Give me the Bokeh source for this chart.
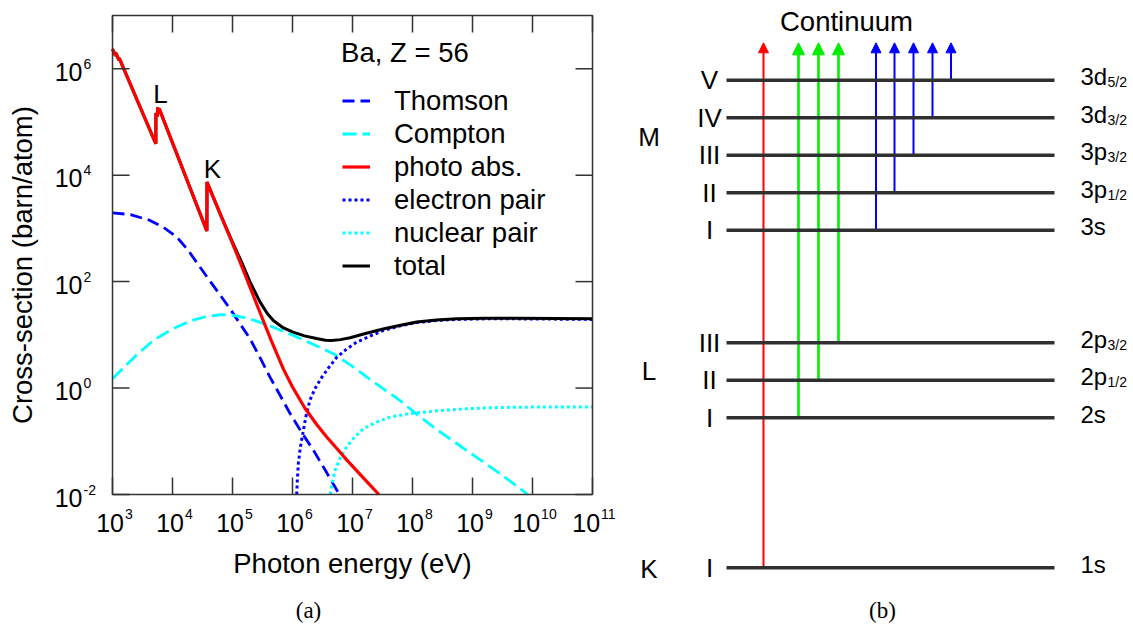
import numpy as np
from math import pi
from bokeh.plotting import figure
from bokeh.models import (Range1d, LogScale, ColumnDataSource, Legend, LegendItem, Arrow,
                          NormalHead)
from bokeh.embed import file_html
from bokeh.resources import INLINE
from bokeh.core.properties import value

# ======================= DATA =======================
# Panel (a): Ba (Z = 56) photon cross sections.
# Energies as log10(E / eV), cross sections as log10(sigma / (barn/atom)).
thomson_logE = [3.00, 3.30, 3.625, 3.85, 4.07, 4.26, 4.46, 4.63, 4.80, 4.97, 5.13, 5.29, 5.46,
                5.625, 5.80, 5.96, 6.15, 6.35, 6.55, 6.74, 6.78]
thomson_logS = [3.29, 3.26, 3.15, 3.02, 2.84, 2.59, 2.27, 2.00, 1.74, 1.47, 1.20, 0.93, 0.57,
                0.205, -0.15, -0.48, -0.83, -1.17, -1.55, -1.92, -2.00]

compton_logE = [3.00, 3.20, 3.40, 3.68, 4.00, 4.32, 4.55, 4.80, 5.00, 5.29, 5.60, 6.01, 6.35,
                6.68, 6.97, 7.24, 7.52, 7.79, 8.07, 8.35, 8.62, 8.90, 9.18, 9.46, 9.70, 9.92]
compton_logS = [0.175, 0.40, 0.62, 0.895, 1.11, 1.27, 1.34, 1.38, 1.37, 1.30, 1.18, 0.99, 0.82,
                0.645, 0.43, 0.205, -0.02, -0.233, -0.49, -0.735, -0.95, -1.17, -1.39, -1.61,
                -1.81, -2.00]

photo_logE = [3.000, 3.050, 3.052, 3.110, 3.112, 3.722, 3.724, 3.749, 3.751, 3.776, 3.778,
              4.573, 4.575, 4.80, 5.00, 5.15, 5.29, 5.458, 5.65, 5.847, 6.00, 6.208, 6.40,
              6.57, 6.75, 6.903, 7.20, 7.44]
photo_logS = [6.37, 6.245, 6.30, 6.16, 6.20, 4.59, 5.17, 5.10, 5.27, 5.21, 5.25,
              2.95, 3.87, 3.26, 2.72, 2.30, 1.90, 1.42, 0.88, 0.36, 0.02, -0.38, -0.68,
              -0.92, -1.15, -1.35, -1.71, -2.00]

epair_logE = [6.07, 6.08, 6.097, 6.13, 6.18, 6.23, 6.29, 6.38, 6.49, 6.60, 6.74, 6.90, 7.07,
              7.30, 7.51, 7.80, 8.07, 8.40, 8.74, 9.20, 9.74, 10.40, 11.00]
epair_logS = [-2.00, -1.75, -1.42, -1.12, -0.80, -0.50, -0.23, 0.00, 0.205, 0.38, 0.58, 0.73,
              0.863, 0.98, 1.08, 1.17, 1.23, 1.27, 1.29, 1.30, 1.30, 1.295, 1.29]

npair_logE = [6.63, 6.65, 6.71, 6.80, 6.90, 7.03, 7.18, 7.40, 7.625, 7.90, 8.18, 8.50, 8.90,
              9.30, 9.74, 10.40, 11.00]
npair_logS = [-2.00, -1.85, -1.55, -1.30, -1.11, -0.93, -0.765, -0.64, -0.547, -0.49, -0.453,
              -0.42, -0.39, -0.37, -0.36, -0.355, -0.355]

total_logE = [3.000, 3.050, 3.052, 3.110, 3.112, 3.722, 3.724, 3.749, 3.751, 3.776, 3.778,
              4.573, 4.575, 4.80, 5.00, 5.15, 5.29, 5.458, 5.58, 5.68, 5.85, 6.01, 6.20, 6.40,
              6.55, 6.65, 6.80, 6.96, 7.20, 7.51, 7.80, 8.07, 8.40, 8.74, 9.20, 9.74, 10.40, 11.00]
total_logS = [6.37, 6.245, 6.30, 6.16, 6.20, 4.59, 5.17, 5.10, 5.27, 5.21, 5.25,
              2.95, 3.87, 3.26, 2.74, 2.37, 2.00, 1.62, 1.40, 1.27, 1.13, 1.05, 0.98, 0.93,
              0.90, 0.895, 0.91, 0.945, 1.02, 1.11, 1.18, 1.24, 1.28, 1.30, 1.31, 1.31, 1.305, 1.30]

x_ticks = [1e3, 1e4, 1e5, 1e6, 1e7, 1e8, 1e9, 1e10, 1e11]
x_tick_exp = ["3", "4", "5", "6", "7", "8", "9", "10", "11"]
y_ticks = [1e-2, 1e0, 1e2, 1e4, 1e6]
y_tick_exp = ["-2", "0", "2", "4", "6"]
E_MIN, E_MAX = 1e3, 1e11
S_MIN, S_MAX = 1e-2, 1e7

legend_labels = ["Thomson", "Compton", "photo abs.", "electron pair", "nuclear pair", "total"]

# Panel (b): Ba electron levels (schematic heights) and ionising transitions
level_shell = ["K", "L", "L", "L", "M", "M", "M", "M", "M"]
level_roman = ["I", "I", "II", "III", "I", "II", "III", "IV", "V"]
level_orb = ["1s", "2s", "2p", "2p", "3s", "3p", "3p", "3d", "3d"]
level_j = ["", "", "1/2", "3/2", "", "1/2", "3/2", "3/2", "5/2"]
level_height = [0, 4, 5, 6, 9, 10, 11, 12, 13]
continuum_height = 14
shell_names = ["K", "L", "M"]

# ======================= STYLE / LAYOUT =======================
FONT = "Liberation Sans"
SERIF = "Liberation Serif"
INK = "#333333"
W, H = 1133, 626
MID = "middle"

# panel (a) plot box in canvas pixels
AX0, AX1, AYT, AYB = 112.0, 592.0, 15.0, 494.0
dec_x = (AX1 - AX0) / (np.log10(E_MAX) - np.log10(E_MIN))
dec_y = (AYB - AYT) / (np.log10(S_MAX) - np.log10(S_MIN))
E_range = Range1d(10 ** (np.log10(E_MIN) - AX0 / dec_x), 10 ** (np.log10(E_MAX) + (W - AX1) / dec_x))
S_range = Range1d(10 ** (np.log10(S_MIN) - (H - AYB) / dec_y), 10 ** (np.log10(S_MAX) + AYT / dec_y))

# panel (b) schematic units -> canvas pixels
UX, UY = 18.9, 37.5          # px per unit
BX0, BY0 = 726.0, 567.3      # canvas position of (0, 0)
u_range = Range1d(-BX0 / UX, (W - BX0) / UX)
v_range = Range1d(-(H - BY0) / UY, BY0 / UY)

p = figure(width=W, height=H, x_range=u_range, y_range=v_range, min_border=0,
           x_axis_location=None, y_axis_location=None,
           output_backend="svg", toolbar_location=None)
p.grid.visible = False
p.outline_line_color = None
p.background_fill_color = "white"
p.border_fill_color = "white"
p.extra_x_ranges = {"E": E_range}
p.extra_x_scales = {"E": LogScale()}
p.extra_y_ranges = {"S": S_range}
p.extra_y_scales = {"S": LogScale()}
A = dict(x_range_name="E", y_range_name="S")

def lin(a):
    return np.power(10.0, np.asarray(a, dtype=float))

# ---------------- panel (a) ----------------
r_th = p.line(lin(thomson_logE), lin(thomson_logS), line_color="#0000ff", line_width=2.8,
              line_dash="12 6", **A)
r_co = p.line(lin(compton_logE), lin(compton_logS), line_color="#00ffff", line_width=2.8,
              line_dash="14 6", **A)
r_np = p.line(lin(npair_logE), lin(npair_logS), line_color="#00ffff", line_width=3,
              line_dash="3 3", **A)
r_ep = p.line(lin(epair_logE), lin(epair_logS), line_color="#0000ff", line_width=3,
              line_dash="3 3", **A)
r_to = p.line(lin(total_logE), lin(total_logS), line_color="black", line_width=3, **A)
r_ph = p.line(lin(photo_logE), lin(photo_logS), line_color="#ff0000", line_width=3.2, **A)

# plot box and inward ticks on all four sides
p.quad(left=[E_MIN], right=[E_MAX], bottom=[S_MIN], top=[S_MAX], fill_color=None,
       line_color=INK, line_width=1.5, **A)
TICK = 17
p.ray(x=x_ticks, y=[S_MIN] * len(x_ticks), length=TICK, length_units="screen", angle=pi / 2,
      line_color=INK, line_width=1.5, **A)
p.ray(x=x_ticks, y=[S_MAX] * len(x_ticks), length=TICK, length_units="screen", angle=-pi / 2,
      line_color=INK, line_width=1.5, **A)
p.ray(x=[E_MIN] * len(y_ticks), y=y_ticks, length=TICK, length_units="screen", angle=0,
      line_color=INK, line_width=1.5, **A)
p.ray(x=[E_MAX] * len(y_ticks), y=y_ticks, length=TICK, length_units="screen", angle=pi,
      line_color=INK, line_width=1.5, **A)

legend = Legend(items=[LegendItem(label=l, renderers=[r]) for l, r in
                       zip(legend_labels, [r_th, r_co, r_ph, r_ep, r_np, r_to])],
                location=(342, 344), orientation="vertical",
                glyph_width=28, glyph_height=33, label_height=33, spacing=0,
                padding=0, margin=0, label_standoff=24,
                label_text_font=FONT, label_text_font_size="27.5px", label_text_color="black",
                border_line_color=None, background_fill_alpha=0)
p.add_layout(legend)

# tick labels: "10" with a raised exponent
BASE_W = 27.8   # width of "10" at 25px
EXP_W = 7.8     # width of one exponent digit at 14px
x_boff = [(BASE_W - 1 - EXP_W * len(e)) / 2.0 + 2 for e in x_tick_exp]
xsrc = ColumnDataSource(dict(x=x_ticks, y=[S_MIN] * len(x_ticks), base=["10"] * len(x_ticks),
                             exp=x_tick_exp, boff=x_boff, eoff=[o + 1 for o in x_boff]))
p.text(x="x", y="y", text="base", x_offset="boff", y_offset=28, source=xsrc,
       text_align="right", text_baseline=MID, text_font=value(FONT),
       text_font_size="25px", text_color="black", **A)
p.text(x="x", y="y", text="exp", x_offset="eoff", y_offset=19, source=xsrc,
       text_align="left", text_baseline=MID, text_font=value(FONT),
       text_font_size="14px", text_color="black", **A)
ysrc = ColumnDataSource(dict(x=[E_MIN] * len(y_ticks), y=y_ticks, base=["10"] * len(y_ticks),
                             exp=y_tick_exp))
p.text(x="x", y="y", text="base", x_offset=-30, y_offset=3, source=ysrc,
       text_align="right", text_baseline=MID, text_font=value(FONT),
       text_font_size="25px", text_color="black", **A)
p.text(x="x", y="y", text="exp", x_offset=-29, y_offset=-5, source=ysrc,
       text_align="left", text_baseline=MID, text_font=value(FONT),
       text_font_size="14px", text_color="black", **A)

E_mid = np.sqrt(E_MIN * E_MAX)
S_mid = np.sqrt(S_MIN * S_MAX)
p.text(x=[E_mid], y=[S_MIN], text=["Photon energy (eV)"], y_offset=69, text_align="center",
       text_baseline=MID, text_font=value(FONT), text_font_size="27.5px",
       text_color="black", **A)
p.text(x=[E_MIN], y=[S_mid], text=["Cross-section (barn/atom)"], x_offset=-90, y_offset=10,
       angle=pi / 2, text_align="center", text_baseline=MID, text_font=value(FONT),
       text_font_size="27.5px", text_color="black", **A)
p.text(x=[10 ** 6.81], y=[10 ** 6.12], text=["Ba, Z = 56"], y_offset=-9.5, text_align="left",
       text_baseline=MID, text_font=value(FONT), text_font_size="27.5px",
       text_color="black", **A)
p.text(x=[10 ** 3.80, 10 ** 4.667], y=[10 ** 5.31, 10 ** 3.90], text=["L", "K"], y_offset=-11,
       text_align="center", text_baseline=MID, text_font=value(FONT),
       text_font_size="26px", text_color="black", **A)
p.text(x=[10 ** 6.267], y=[S_MIN], text=["(a)"], y_offset=116, text_align="center",
       text_baseline=MID, text_font=value(SERIF), text_font_size="23px",
       text_color="black", **A)

# ---------------- panel (b) ----------------
lvl = np.asarray(level_height, dtype=float)
line_u0, line_u1 = 0.0, (1054 - BX0) / UX
p.segment(x0=line_u0, x1=line_u1, y0=lvl, y1=lvl, line_color="#303030", line_width=3.5)

shell_colour = {"K": "#ff0000", "L": "#00ee00", "M": "#0000ff"}
shell_lw = {"K": 2.0, "L": 2.6, "M": 2.0}
shell_head = {"K": 10, "L": 12, "M": 10}
arrow_slot = [(x - BX0) / UX for x in (763, 798, 818, 838, 875.5, 894, 913, 932, 950.5)]
for sh in shell_names:
    idx = [i for i, s in enumerate(level_shell) if s == sh]
    src = ColumnDataSource(dict(x=[arrow_slot[i] for i in idx],
                                y0=[level_height[i] for i in idx],
                                y1=[continuum_height] * len(idx)))
    c = shell_colour[sh]
    p.add_layout(Arrow(end=NormalHead(size=shell_head[sh], fill_color=c, line_color=c,
                                      line_width=1),
                       x_start="x", y_start="y0", x_end="x", y_end="y1",
                       line_color=c, line_width=shell_lw[sh], source=src, level="underlay"))

# roman numerals of the sub-shells
p.text(x=[(709 - BX0) / UX] * len(lvl), y=lvl, text=level_roman, y_offset=0,
       text_align="center", text_baseline=MID, text_font=value(FONT), text_font_size="26px",
       text_color="black")
# orbital names with j subscripts
p.text(x=[(1080 - BX0) / UX] * len(lvl), y=lvl, text=level_orb, y_offset=-3.5,
       text_align="left", text_baseline=MID, text_font=value(FONT), text_font_size="24px",
       text_color="black")
sub_idx = [i for i, j in enumerate(level_j) if j]
p.text(x=[(1107 - BX0) / UX] * len(sub_idx), y=[level_height[i] for i in sub_idx],
       text=[level_j[i] for i in sub_idx], y_offset=2, text_align="left",
       text_baseline=MID, text_font=value(FONT), text_font_size="14px",
       text_color="black")
# shell names
shell_label_v = [(BY0 - 568) / UY, (BY0 - 370.7) / UY, (BY0 - 136.5) / UY]
p.text(x=[(648.5 - BX0) / UX] * 3, y=shell_label_v, text=shell_names, text_align="center",
       text_baseline=MID, text_font=value(FONT), text_font_size="26px",
       text_color="black")
p.text(x=[(846 - BX0) / UX], y=[continuum_height], text=["Continuum"], y_offset=-21.5,
       text_align="center", text_baseline=MID, text_font=value(FONT),
       text_font_size="27.5px", text_color="black")
p.text(x=[(882 - BX0) / UX], y=[(BY0 - 610) / UY], text=["(b)"], text_align="center",
       text_baseline=MID, text_font=value(SERIF), text_font_size="23px",
       text_color="black")

open("out.html", "w").write(file_html(p, INLINE))
